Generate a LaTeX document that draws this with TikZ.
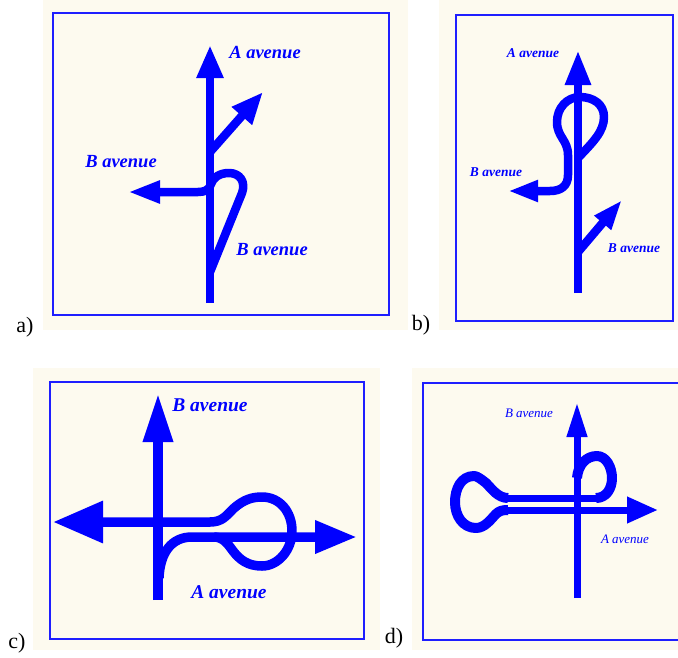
\documentclass[tikz,border=0pt]{standalone}
\usepackage{fontspec}
\setmainfont{Liberation Serif}
\usetikzlibrary{arrows.meta}
\definecolor{roadblue}{RGB}{0,0,255}
\definecolor{cream}{RGB}{253,250,239}
\definecolor{frameblue}{RGB}{30,30,255}
\begin{document}
\begin{tikzpicture}[x=1pt,y=-1pt,
  road/.style={draw=roadblue,line width=8.5pt,line join=round},
  frame/.style={draw=frameblue,line width=2pt},
  bg/.style={fill=cream},
  lblbig/.style={text=roadblue,font=\fontsize{18.5}{20}\selectfont\bfseries\itshape,inner sep=0pt},
  lblc/.style={text=roadblue,font=\fontsize{19.5}{21}\selectfont\bfseries\itshape,inner sep=0pt},
  lblsmall/.style={text=roadblue,font=\fontsize{13.5}{15}\selectfont\bfseries\itshape,inner sep=0pt},
  lbld/.style={text=roadblue,font=\fontsize{13}{15}\selectfont\itshape,inner sep=0pt},
  panellbl/.style={text=black,font=\fontsize{22}{24}\selectfont,inner sep=0pt}]
\useasboundingbox (0,0) rectangle (678,657);
% ---------- backgrounds ----------
\fill[bg] (43,0) rectangle (408,330);
\fill[bg] (439,0) rectangle (678,330);
\fill[bg] (33,368) rectangle (380,650);
\fill[bg] (412,368) rectangle (678,650);
\draw[frame] (53,13) rectangle (389,315);
\draw[frame] (456,15) rectangle (673,321);
\draw[frame] (50,382) rectangle (364,639);
\draw[frame] (690,383) -- (423,383) -- (423,640) -- (690,640);
\node[panellbl] (pa) at (25,327) {a)};
\node[panellbl] (pb) at (421,325) {b)};
\node[panellbl] (pc) at (17,643) {c)};
\node[panellbl] (pd) at (394,638) {d)};
% ---------- panel a ----------
\coordinate (a1) at (210,303);
\coordinate (a2) at (210,45);
\coordinate (a3) at (210,152);
\coordinate (a4) at (263,92);
\coordinate (a5) at (210,272);
\coordinate (a6) at (128,192);
\draw[road,-{Triangle[length=33pt,width=25pt]}] (a1) -- (a2);
\draw[road,-{Triangle[length=32pt,width=25pt]}] (a3) -- (a4);
\draw[road,-{Triangle[length=32pt,width=21pt]}] (a5) -- (242,193)
  .. controls (246,182) and (240,173) .. (229,173)
  .. controls (219,173) and (213,178) .. (211,184)
  .. controls (209,190) and (205,192) .. (198,192) -- (a6);
\node[lblbig] (aA) at (265,52) {A avenue};
\node[lblbig] (aB1) at (121,162) {B avenue};
\node[lblbig] (aB2) at (272,250) {B avenue};
% ---------- panel b ----------
\coordinate (b1) at (578,293);
\coordinate (b2) at (578,50);
\coordinate (b3) at (578,158);
\coordinate (b4) at (508,191);
\coordinate (b5) at (578,252);
\coordinate (b6) at (622,200);
\draw[road,-{Triangle[length=35pt,width=24pt]}] (b1) -- (b2);
\draw[road,-{Triangle[length=30pt,width=20pt]}] (b3)
  .. controls (592,143) and (604,132) .. (604,117)
  .. controls (604,104) and (593,97) .. (580,97)
  .. controls (567,97) and (557,108) .. (557,122)
  .. controls (557,137) and (568,140) .. (568,155) -- (568,175)
  .. controls (568,186) and (561,191) .. (550,191) -- (b4);
\draw[road,-{Triangle[length=30pt,width=20pt]}] (b5) -- (b6);
\node[lblsmall] (bA) at (533,53) {A avenue};
\node[lblsmall] (bB1) at (496,172) {B avenue};
\node[lblsmall] (bB2) at (634,248) {B avenue};
% ---------- panel c ----------
\coordinate (c1) at (158,600);
\coordinate (c2) at (158,393);
\coordinate (c3) at (53,522);
\coordinate (c4) at (159,578);
\coordinate (c5) at (357,537);
\draw[road,line width=9.5pt,-{Triangle[length=49pt,width=28pt]}] (c1) -- (c2);
\draw[road,line width=9.5pt,{Triangle[length=50pt,width=40pt]}-] (c3) -- (210,522)
  .. controls (222,522) and (226,516) .. (233,509)
  .. controls (244,499) and (253,497) .. (262,497)
  .. controls (280,497) and (292,512) .. (292,531)
  .. controls (292,550) and (278,566) .. (262,566)
  .. controls (248,566) and (240,560) .. (233,551)
  .. controls (228,544) and (223,537) .. (214,537);
\draw[road,line width=9.5pt,-{Triangle[length=42pt,width=31pt]}] (c4)
  .. controls (160,552) and (172,537) .. (192,537) -- (c5);
\node[lblc] (cB) at (210,405) {B avenue};
\node[lblc] (cA) at (229,592) {A avenue};
% ---------- panel d ----------
\coordinate (d1) at (577,598);
\coordinate (d2) at (577,402);
\coordinate (d3) at (577,478);
\coordinate (d4) at (658,510);
\draw[road,line width=7pt,-{Triangle[length=35pt,width=19pt]}] (d1) -- (d2);
\draw[road,line width=10pt] (d3)
  .. controls (578,465) and (586,456) .. (597,456)
  .. controls (606,456) and (612,467) .. (612,478)
  .. controls (612,489) and (606,498) .. (596,498);
\draw[road,line width=7pt] (598,498) -- (505,498);
\draw[road,line width=10pt] (508,498)
  .. controls (498,498) and (492,489) .. (486,483)
  .. controls (481,479) and (477,476) .. (474,476)
  .. controls (461,476) and (455,489) .. (455,502)
  .. controls (455,516) and (463,528) .. (476,528)
  .. controls (485,528) and (491,519) .. (496,514)
  .. controls (499,511) and (502,510) .. (508,510);
\draw[road,line width=7pt,-{Triangle[length=31pt,width=25pt]}] (505,510) -- (d4);
\node[lbld] (dB) at (529,413) {B avenue};
\node[lbld] (dA) at (625,539) {A avenue};
\end{tikzpicture}
\end{document}
